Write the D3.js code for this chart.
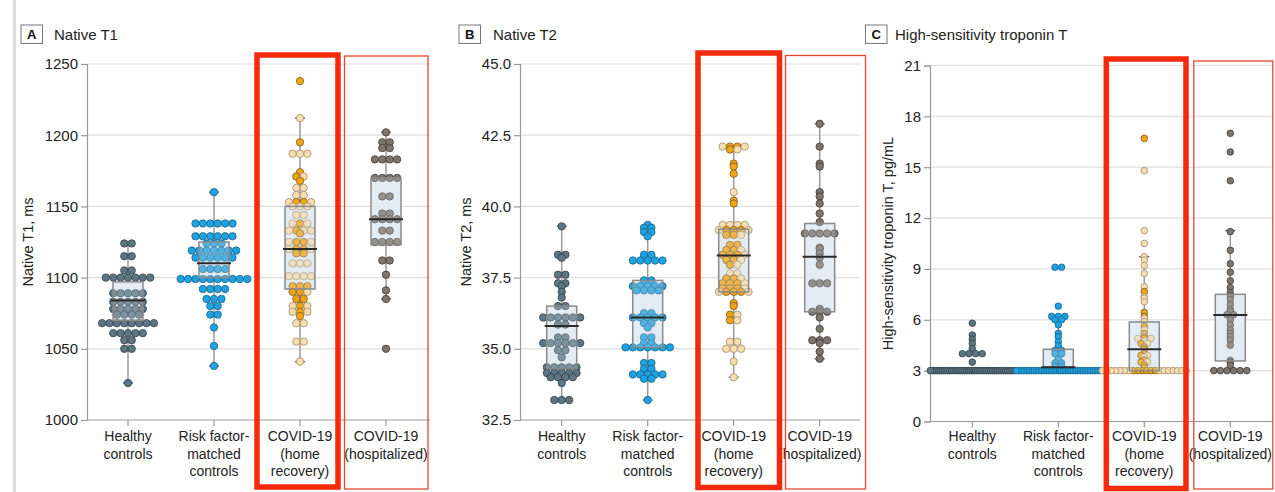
<!DOCTYPE html>
<html>
<head>
<meta charset="utf-8">
<script src="https://cdn.jsdelivr.net/npm/d3@7"></script>
<style>
  html, body { margin: 0; padding: 0; background: #fff; }
  svg { display: block; font-family: "Liberation Sans", Arial, sans-serif; }
</style>
</head>
<body>
<svg id="chart" width="1275" height="492"></svg>
<script>
// ---- categorias (eixo x, iguais nos 3 painéis) ----
const categoryLines = [
  ["Healthy", "controls"],
  ["Risk factor-", "matched", "controls"],
  ["COVID-19", "(home", "recovery)"],
  ["COVID-19", "(hospitalized)"]
];

// ---- Painel A: Native T1, ms ----
const t1Healthy = [1124, 1124, 1115, 1115, 1105, 1105,
  1100, 1100, 1100, 1100, 1100, 1100, 1100,
  1089, 1089, 1089, 1089, 1089,
  1083, 1083, 1083, 1083, 1083,
  1078, 1078, 1078, 1078, 1078,
  1074, 1074, 1074, 1074,
  1068, 1068, 1068, 1068, 1068, 1068, 1068, 1068,
  1061, 1061, 1061, 1061, 1061,
  1056, 1056, 1050, 1050, 1026];
const t1Risk = [1160,
  1138, 1138, 1138, 1138, 1138, 1138,
  1129, 1129, 1129, 1129, 1129, 1129,
  1124, 1124, 1124,
  1119, 1119, 1119, 1119, 1119, 1119, 1119,
  1114, 1114, 1114, 1114, 1114, 1114,
  1106, 1106, 1106, 1106,
  1099, 1099, 1099, 1099, 1099, 1099, 1099, 1099, 1099, 1099,
  1092, 1092, 1092, 1092,
  1085, 1085, 1085, 1080, 1080, 1074, 1074, 1065, 1052, 1038];
const t1HomeOrange = [1238, 1195, 1174, 1171, 1168, 1153, 1153, 1138, 1133, 1131,
  1125, 1125, 1120, 1120, 1117, 1117, 1094, 1094, 1094, 1090, 1090,
  1085, 1085, 1080, 1076, 1073];
const t1HomeBeige = [1212, 1187, 1187, 1187, 1171, 1163, 1163, 1158, 1158,
  1153, 1153, 1150, 1150, 1150, 1144, 1144, 1138, 1138, 1133, 1133, 1133,
  1125, 1125, 1120, 1120, 1110, 1110, 1110, 1101, 1101, 1101, 1101,
  1090, 1080, 1080, 1076, 1076, 1068, 1068, 1055, 1055, 1041];
const t1Hosp = [1202, 1195, 1195, 1191, 1191, 1183, 1183, 1183, 1183,
  1170, 1170, 1170, 1170, 1157, 1157, 1145, 1145, 1141, 1141, 1141, 1141,
  1133, 1133, 1125, 1125, 1125, 1125, 1112, 1112, 1102, 1091, 1085, 1050];
const t1Ticks = [1000, 1050, 1100, 1150, 1200, 1250];
const t1Q1 = [1070, 1100, 1092, 1123];
const t1Median = [1084, 1110, 1120, 1141];
const t1Q3 = [1097, 1125, 1150, 1170];
const t1WhiskerLow = [1026, 1038, 1041, 1085];
const t1WhiskerHigh = [1124, 1160, 1212, 1202];

// ---- Painel B: Native T2, ms ----
const t2Healthy = [39.3, 38.3, 38.3, 38.2, 37.6, 37.6, 37.3, 37.3, 37.2, 37.0, 36.8,
  36.5, 36.5, 36.1, 36.1, 36.1, 36.1, 36.1, 36.1, 35.85, 35.85, 35.4, 35.4,
  35.2, 35.2, 35.2, 35.2, 35.2, 35.2, 34.95, 34.95, 34.7,
  34.35, 34.35, 34.35, 34.35, 34.35, 34.15, 34.15, 34.15, 34.15, 34.15,
  34.0, 34.0, 34.0, 34.0, 33.8, 33.2, 33.2, 33.2];
const t2Risk = [39.35, 39.25, 39.25, 39.1, 39.1, 38.95, 38.3, 38.3,
  38.1, 38.1, 38.1, 38.1, 38.1, 37.4, 37.4, 37.2, 37.2, 37.2, 37.2, 37.2,
  37.05, 37.05, 37.05, 37.05, 36.25, 36.25, 36.1, 36.1, 36.1, 36.1, 36.1,
  35.9, 35.9, 35.75, 35.4, 35.4, 35.2, 35.2,
  35.05, 35.05, 35.05, 35.05, 35.05, 35.05, 35.05, 34.5, 34.5, 34.3, 34.3,
  34.1, 34.1, 34.1, 34.1, 34.1, 33.95, 33.95, 33.2];
const t2HomeOrange = [42.1, 42.1, 42.0, 41.5, 41.4, 41.15, 40.2, 40.1,
  39.17, 39.17, 39.17, 39.0, 39.0, 38.65, 38.65, 38.47, 38.47, 38.3, 38.3, 38.3,
  38.12, 38.12, 37.95, 37.47, 37.47, 37.3, 37.3, 37.3, 37.12, 37.12, 37.12,
  37.0, 37.0, 37.0, 36.6, 36.5, 36.2, 36.0];
const t2HomeBeige = [42.1, 42.1, 42.0, 40.5, 39.35, 39.35, 39.35, 39.35, 39.17, 39.17,
  39.0, 38.47, 38.3, 38.12, 37.95, 37.65, 37.65, 37.47, 37.3, 37.12, 37.0, 37.0,
  36.2, 36.0, 35.25, 35.25, 35.0, 35.0, 35.0, 34.55, 34.0];
const t2Hosp = [42.9, 42.1, 41.5, 41.4, 40.5, 40.35, 40.1, 39.75, 39.45,
  39.05, 39.05, 39.05, 39.05, 39.05, 38.55, 38.5, 38.35, 38.2, 37.95,
  37.3, 37.3, 37.3, 36.4, 36.3, 36.3, 36.3, 36.1, 35.7, 35.3, 35.3, 35.3, 35.2, 34.9, 34.65];
const t2Ticks = [32.5, 35.0, 37.5, 40.0, 42.5, 45.0];
const t2Q1 = [34.3, 35.05, 37.0, 36.3];
const t2Median = [35.8, 36.1, 38.28, 38.23];
const t2Q3 = [36.5, 37.4, 39.2, 39.4];
const t2WhiskerLow = [33.2, 33.2, 34.0, 34.65];
const t2WhiskerHigh = [39.3, 39.35, 42.1, 42.9];

// ---- Painel C: High-sensitivity troponin T, pg/mL ----
const tnHealthy = [5.8, 5.1, 4.85, 4.6, 4.3, 4.0, 4.0, 4.0, 4.0, 3.5,
  3, 3, 3, 3, 3, 3, 3, 3, 3, 3, 3, 3, 3, 3, 3, 3, 3, 3, 3, 3,
  3, 3, 3, 3, 3, 3, 3, 3, 3, 3, 3, 3, 3, 3, 3, 3, 3, 3, 3, 3];
const tnRisk = [9.1, 9.1, 6.8, 6.2, 6.2, 6.2, 6.0, 6.0, 5.7, 5.2, 5.0, 4.7, 4.45,
  4.2, 4.2, 4.0, 4.0, 3.7, 3.45, 3.45, 3.25, 3.25,
  3, 3, 3, 3, 3, 3, 3, 3, 3, 3, 3, 3, 3, 3, 3, 3, 3, 3,
  3, 3, 3, 3, 3, 3, 3, 3, 3, 3, 3, 3, 3, 3, 3, 3, 3];
const tnHomeOrange = [16.7, 7.66, 6.44, 6.2, 5.6, 5.2, 5.0, 4.9, 4.6, 4.4, 4.26,
  4.0, 3.9, 3.63, 3.5, 3.33, 3.2, 3, 3, 3, 3, 3, 3];
const tnHomeBeige = [14.8, 11.26, 10.5, 9.72, 9.53, 9.2, 8.74, 7.95, 7.36, 7.27, 7.07,
  6.09, 5.89, 5.4, 5.1, 4.9, 4.9, 4.75, 4.6, 4.3, 4.1, 3.9, 3.8, 3.5,
  3, 3, 3, 3, 3, 3, 3, 3, 3, 3, 3, 3, 3, 3];
const tnHosp = [17.0, 15.9, 14.2, 11.2, 10.1, 9.3, 8.8, 8.3, 7.9, 7.6, 7.4, 7.2, 6.9,
  6.6, 6.5, 6.3, 6.3, 6.0, 5.7, 5.4, 5.2, 5.0, 4.8, 4.5, 3.6, 3.5, 3.3,
  3, 3, 3, 3, 3, 3];
const tnTicks = [0, 3, 6, 9, 12, 15, 18, 21];
const tnQ1 = [3, 3.2, 3.0, 3.57];
const tnMedian = [3, 3.2, 4.26, 6.28];
const tnQ3 = [3, 4.26, 5.87, 7.5];
const tnWhiskerLow = [3, 3, 3, 3];
const tnWhiskerHigh = [3, 6.2, 9.72, 11.26];

// ---- cores dos pontos ----
const cores = {
  healthy: { fill: "#5c7783", stroke: "#2f4049" },
  risk:    { fill: "#1fa3e0", stroke: "#17638b" },
  orange:  { fill: "#f2a417", stroke: "#7c5c1c" },
  beige:   { fill: "#f8ddb0", stroke: "#a08e6a" },
  hosp:    { fill: "#7d766e", stroke: "#403b36" }
};

const pts = (vals, cor) => vals.map(v => ({ value: v, cor }));

const paineis = [
  {
    letra: "A", titulo: "Native T1", yTitulo: "Native T1, ms",
    boxX: 21, tituloX: 54, yTituloX: 29,
    eixoX: 87, xRange: [85, 429], gridRight: 430,
    dominio: [1000, 1250], yRange: [420, 64], ticks: t1Ticks, fmt: d3.format("d"),
    r: 3.7,
    grupos: [pts(t1Healthy, "healthy"), pts(t1Risk, "risk"),
             pts(t1HomeOrange, "orange").concat(pts(t1HomeBeige, "beige")), pts(t1Hosp, "hosp")],
    q1: t1Q1, med: t1Median, q3: t1Q3, wLo: t1WhiskerLow, wHi: t1WhiskerHigh,
    vermelhos: [[257, 55, 338, 487, 5.5], [344.5, 56, 428, 489, 1.3]]
  },
  {
    letra: "B", titulo: "Native T2", yTitulo: "Native T2, ms",
    boxX: 459, tituloX: 493, yTituloX: 467,
    eixoX: 520, xRange: [518.7, 862.7], gridRight: 860,
    dominio: [32.5, 45], yRange: [420, 64], ticks: t2Ticks, fmt: d3.format(".1f"),
    r: 3.7,
    grupos: [pts(t2Healthy, "healthy"), pts(t2Risk, "risk"),
             pts(t2HomeOrange, "orange").concat(pts(t2HomeBeige, "beige")), pts(t2Hosp, "hosp")],
    q1: t2Q1, med: t2Median, q3: t2Q3, wLo: t2WhiskerLow, wHi: t2WhiskerHigh,
    vermelhos: [[698, 53, 779.5, 487.5, 5.5], [785.5, 55.5, 865.5, 489, 1.3]]
  },
  {
    letra: "C", titulo: "High-sensitivity troponin T", yTitulo: "High-sensitivity troponin T, pg/mL",
    boxX: 865.5, tituloX: 895, yTituloX: 889,
    eixoX: 930, xRange: [929.3, 1273.3], gridRight: 1273,
    dominio: [0, 21], yRange: [421.5, 65.5], ticks: tnTicks, fmt: d3.format("d"),
    r: 3.3,
    grupos: [pts(tnHealthy, "healthy"), pts(tnRisk, "risk"),
             pts(tnHomeOrange, "orange").concat(pts(tnHomeBeige, "beige")), pts(tnHosp, "hosp")],
    q1: tnQ1, med: tnMedian, q3: tnQ3, wLo: tnWhiskerLow, wHi: tnWhiskerHigh,
    vermelhos: [[1106.3, 59, 1186, 488.5, 5.5], [1193.8, 61, 1272.8, 489, 1.3]]
  }
];

const svg = d3.select("#chart");

// barra cinza na borda esquerda
svg.append("rect").attr("x", 13).attr("y", 0).attr("width", 3).attr("height", 492).attr("fill", "#dcdcdc");

// Linhas de pontos: mesmo valor -> lado a lado, centradas; comprime se passar da largura da banda
function layoutLinhas(pontos, y, r, meiaLargura) {
  const saida = [];
  const linhas = d3.group(pontos, p => p.value);
  for (const [v, lista] of linhas) {
    const n = lista.length;
    const passo = n > 1 ? Math.min(2 * r, (2 * meiaLargura) / (n - 1)) : 0;
    const offs = d3.range(n).map(i => (i - (n - 1) / 2) * passo);
    const ordem = d3.range(n).sort((a, b) =>
      Math.abs(offs[a]) - Math.abs(offs[b]) || offs[a] - offs[b]);
    lista.forEach((p, i) => saida.push({ ...p, dx: offs[ordem[i]], cy: y(v) }));
  }
  return saida;
}

paineis.forEach(p => {
  const g = svg.append("g");
  const y = d3.scaleLinear().domain(p.dominio).range(p.yRange);
  const x = d3.scalePoint().domain(d3.range(4)).range(p.xRange).padding(0.5);
  const base = p.yRange[0];

  // título do painel
  g.append("rect").attr("x", p.boxX).attr("y", 25).attr("width", 21.5).attr("height", 18.5)
    .attr("fill", "#fff").attr("stroke", "#777").attr("stroke-width", 1);
  g.append("text").attr("x", p.boxX + 10.75).attr("y", 39).attr("text-anchor", "middle")
    .attr("font-size", 13).attr("font-weight", "bold").attr("fill", "#111").text(p.letra);
  g.append("text").attr("x", p.tituloX).attr("y", 39.5)
    .attr("font-size", 15).attr("fill", "#222").text(p.titulo);

  // grade horizontal
  g.selectAll("line.grid").data(p.ticks.slice(1)).join("line")
    .attr("x1", p.eixoX).attr("x2", p.gridRight)
    .attr("y1", d => y(d)).attr("y2", d => y(d))
    .attr("stroke", "#dedede").attr("stroke-width", 1.2);

  // eixo y
  const eixoY = g.append("g").attr("transform", `translate(${p.eixoX},0)`)
    .call(d3.axisLeft(y).tickValues(p.ticks).tickFormat(p.fmt).tickSize(6).tickPadding(3));
  eixoY.select(".domain").attr("stroke", "#999").attr("stroke-width", 1.2);
  eixoY.selectAll(".tick line").attr("stroke", "#999").attr("stroke-width", 1.2);
  eixoY.selectAll(".tick text").attr("font-size", 15).attr("fill", "#222")
    .attr("font-family", "Liberation Sans, Arial, sans-serif");

  // eixo x (linha base + marcas)
  g.append("line").attr("x1", p.eixoX).attr("x2", p.gridRight).attr("y1", base).attr("y2", base)
    .attr("stroke", "#999").attr("stroke-width", 1.2);
  g.selectAll("line.xtick").data(d3.range(4)).join("line")
    .attr("x1", d => x(d)).attr("x2", d => x(d)).attr("y1", base).attr("y2", base + 6)
    .attr("stroke", "#999").attr("stroke-width", 1.2);

  // rótulos das categorias
  categoryLines.forEach((linhas, i) => {
    const t = g.append("text").attr("text-anchor", "middle").attr("font-size", 14).attr("fill", "#222");
    linhas.forEach((l, k) => t.append("tspan").attr("x", x(i)).attr("y", 441 + k * 17.5).text(l));
  });

  // título do eixo y
  g.append("text")
    .attr("transform", `translate(${p.yTituloX},${(p.yRange[0] + p.yRange[1]) / 2}) rotate(-90)`)
    .attr("text-anchor", "middle").attr("dominant-baseline", "middle")
    .attr("font-size", 14.5).attr("fill", "#222").text(p.yTitulo);

  const largBox = 30;
  p.grupos.forEach((pontos, i) => {
    const cx = x(i);
    const temBox = p.q3[i] > p.q1[i];

    // bigode
    if (p.wHi[i] > p.wLo[i]) {
      g.append("line").attr("x1", cx).attr("x2", cx).attr("y1", y(p.wLo[i])).attr("y2", y(p.wHi[i]))
        .attr("stroke", "#9a9a9a").attr("stroke-width", 1.5);
      [p.wLo[i], p.wHi[i]].forEach(w => {
        g.append("line").attr("x1", cx - 5).attr("x2", cx + 5).attr("y1", y(w)).attr("y2", y(w))
          .attr("stroke", "#666").attr("stroke-width", 1.5);
      });
    }
    // caixa (fundo)
    if (temBox) {
      g.append("rect").attr("x", cx - largBox / 2).attr("y", y(p.q3[i]))
        .attr("width", largBox).attr("height", y(p.q1[i]) - y(p.q3[i]))
        .attr("fill", "#e5edf4");
    }

    // pontos
    const arr = layoutLinhas(pontos, y, p.r, 42);
    g.append("g").selectAll("circle").data(arr.sort((a, b) => a.cy - b.cy)).join("circle")
      .attr("cx", d => cx + d.dx).attr("cy", d => d.cy).attr("r", p.r)
      .attr("fill", d => cores[d.cor].fill)
      .attr("stroke", d => cores[d.cor].stroke).attr("stroke-width", 0.8);

    // contorno da caixa + mediana por cima
    if (temBox) {
      g.append("rect").attr("x", cx - largBox / 2).attr("y", y(p.q3[i]))
        .attr("width", largBox).attr("height", y(p.q1[i]) - y(p.q3[i]))
        .attr("fill", "#dfe8f0").attr("fill-opacity", 0.25)
        .attr("stroke", "#8a8a8a").attr("stroke-width", 1.5);
      g.append("line").attr("x1", cx - largBox / 2 - 2).attr("x2", cx + largBox / 2 + 2)
        .attr("y1", y(p.med[i])).attr("y2", y(p.med[i]))
        .attr("stroke", "#2a2a2a").attr("stroke-width", 2);
    }
  });

  // destaques vermelhos
  p.vermelhos.forEach(([x1, y1, x2, y2, sw]) => {
    g.append("rect").attr("x", x1).attr("y", y1).attr("width", x2 - x1).attr("height", y2 - y1)
      .attr("fill", "none").attr("stroke", sw > 3 ? "#f5290b" : "#e8452e").attr("stroke-width", sw);
  });
});
</script>
</body>
</html>
